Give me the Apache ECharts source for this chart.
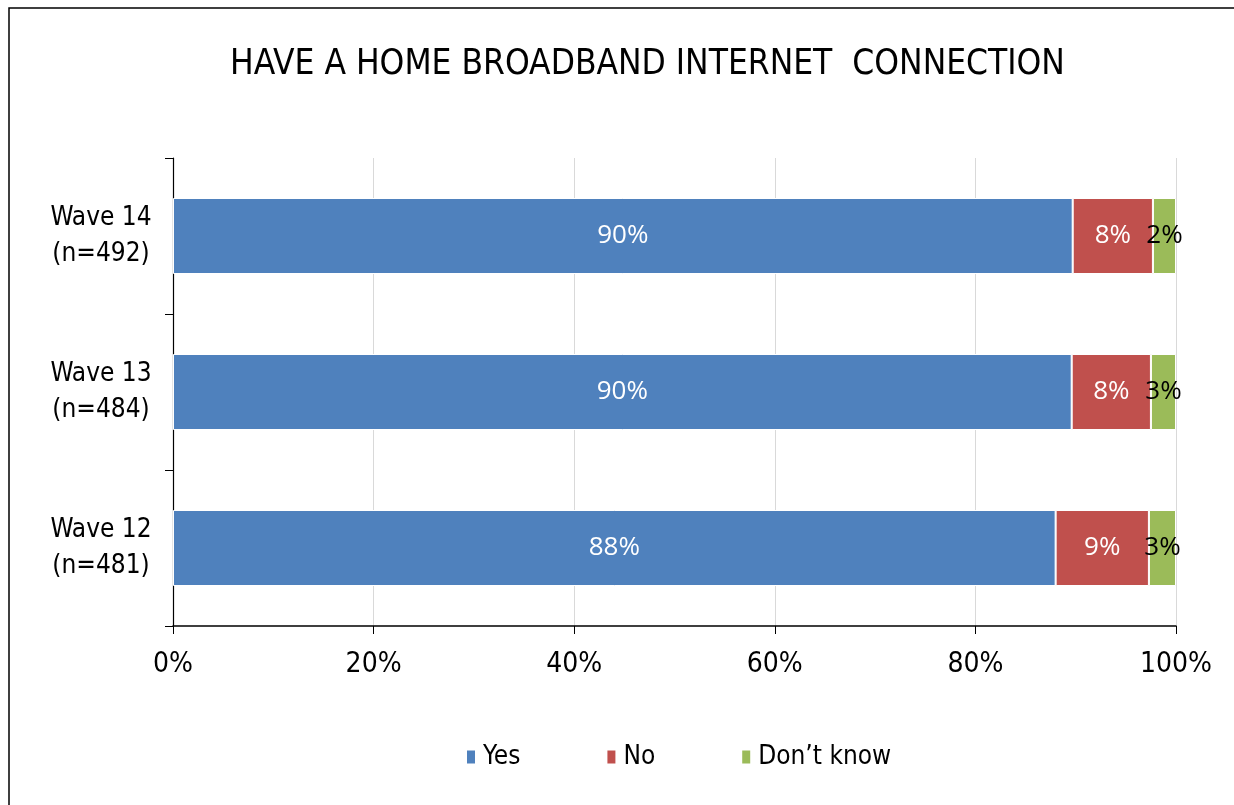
<!DOCTYPE html>
<html>
<head>
<meta charset="utf-8">
<script src="https://cdn.jsdelivr.net/npm/echarts@6/dist/echarts.min.js"></script>
<style>
html,body{margin:0;padding:0;background:#fff;}
#main{width:1234px;height:805px;}
</style>
</head>
<body>
<div id="main"></div>
<script>
var titleText = 'HAVE A HOME BROADBAND INTERNET  CONNECTION';
var categories = ['Wave 12\n(n=481)', 'Wave 13\n(n=484)', 'Wave 14\n(n=492)'];
var seriesNames = ['Yes', 'No', 'Don\u2019t know'];
var yesValues = [88.0, 89.6, 89.7];
var noValues = [9.3, 7.9, 8.0];
var dontKnowValues = [2.7, 2.5, 2.3];
var xTicks = [0, 20, 40, 60, 80, 100];

var NARROW = '"Liberation Sans Narrow", "DejaVu Sans Condensed", "Liberation Sans", Arial, sans-serif';
var LABELFONT = '"Open Sans", "Noto Sans", sans-serif';
var colors = ['#4f81bd', '#c0504d', '#9bbb59'];

function mkSeries(name, data, color, labelColor) {
  return {
    name: name,
    type: 'bar',
    stack: 'total',
    data: data,
    barWidth: 76,
    itemStyle: { color: color, borderColor: '#ffffff', borderWidth: 1 },
    label: {
      show: true,
      position: 'inside',
      color: labelColor,
      fontFamily: LABELFONT,
      fontSize: 26,
      formatter: function (p) { return Math.round(p.value) + '%'; }
    }
  };
}

var chart = echarts.init(document.getElementById('main'), null, { renderer: 'canvas' });
chart.setOption({
  animation: false,
  backgroundColor: '#ffffff',
  title: {
    text: titleText,
    left: 225,
    top: 42,
    textStyle: { fontFamily: NARROW, fontSize: 35, fontWeight: 'normal', color: '#000' }
  },
  legend: {
    data: seriesNames,
    left: 460,
    top: 739,
    itemWidth: 10,
    itemHeight: 15,
    itemGap: 85,
    icon: 'rect',
    textStyle: { fontFamily: NARROW, fontSize: 26, color: '#000', padding: [0, 0, 0, 2] }
  },
  grid: { left: 173, right: 58, top: 158, bottom: 179, containLabel: false },
  xAxis: {
    type: 'value',
    min: 0,
    max: 100,
    interval: 20,
    axisLine: { show: true, lineStyle: { color: '#000', width: 1.5 } },
    axisTick: { show: true, length: 8, lineStyle: { color: '#000' } },
    splitLine: { show: true, lineStyle: { color: '#d9d9d9', width: 1 } },
    axisLabel: {
      formatter: function (v) { return v + '%'; },
      fontFamily: NARROW, fontSize: 28, color: '#000', margin: 25
    }
  },
  yAxis: {
    type: 'category',
    data: categories,
    axisLine: { show: true, lineStyle: { color: '#000', width: 1.2 } },
    axisTick: { show: true, length: 8, lineStyle: { color: '#000' } },
    splitLine: { show: false },
    axisLabel: {
      fontFamily: NARROW, fontSize: 26, color: '#000', margin: 72,
      lineHeight: 36, align: 'center'
    }
  },
  series: [
    mkSeries(seriesNames[0], yesValues, colors[0], '#ffffff'),
    mkSeries(seriesNames[1], noValues, colors[1], '#ffffff'),
    mkSeries(seriesNames[2], dontKnowValues, colors[2], '#000000')
  ],
  graphic: [{
    type: 'rect',
    shape: { x: 9, y: 8, width: 1400, height: 1000 },
    style: { fill: null, stroke: '#000', lineWidth: 1.5 },
    silent: true,
    z: 100
  }]
});
</script>
</body>
</html>
